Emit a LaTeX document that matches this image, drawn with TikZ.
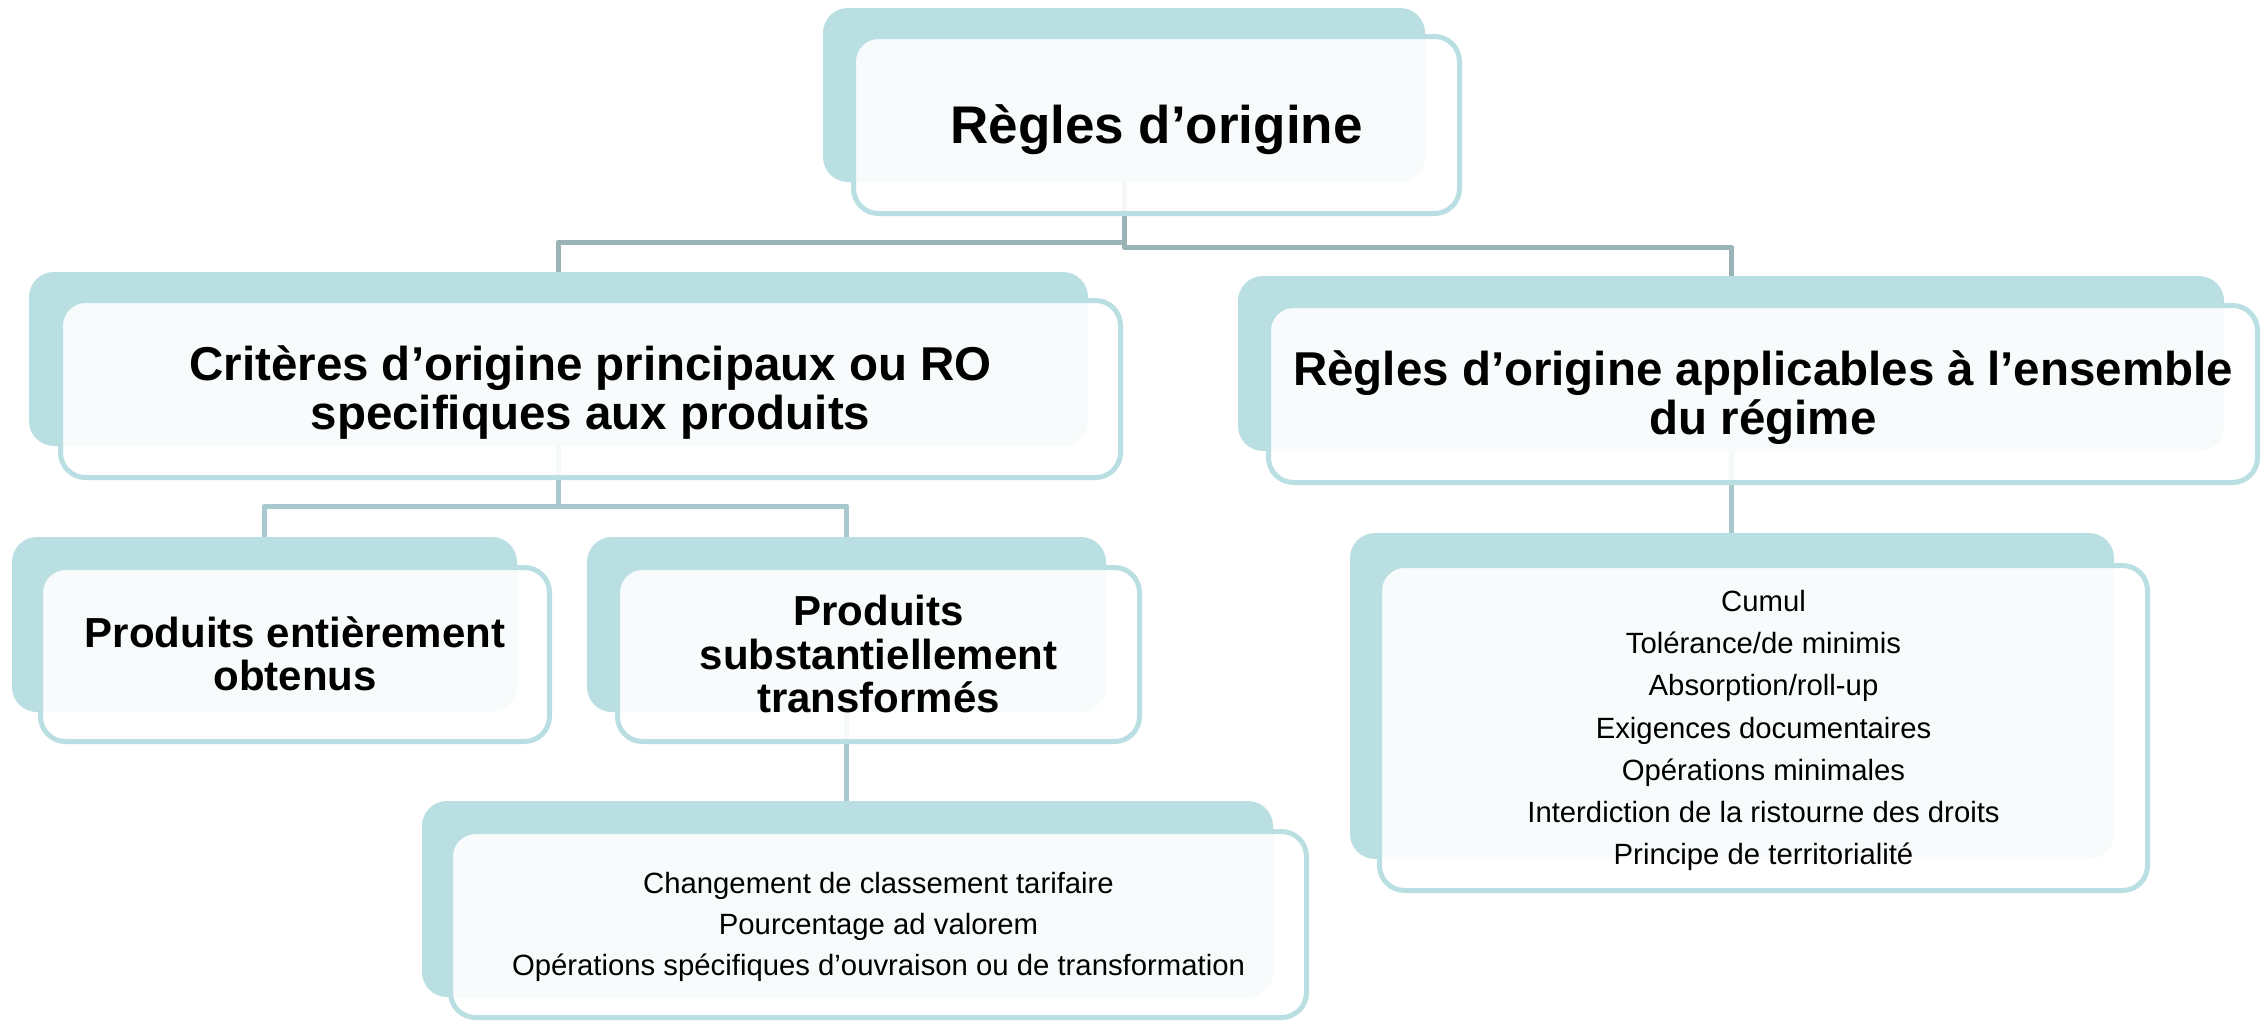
\documentclass[tikz,border=0pt]{standalone}
\usepackage{fontspec}
\setmainfont{Liberation Sans}
\pgfdeclarelayer{bg}
\pgfsetlayers{bg,main}
\definecolor{tealbox}{HTML}{BADFE2}
\definecolor{connA}{HTML}{9AB3B6}
\definecolor{connB}{HTML}{A7C9CD}
\newcommand\myasc{\rule{0pt}{.905em}}
\newcommand\mydsc{\rule[-.212em]{0pt}{.212em}}
\begin{document}
\begin{tikzpicture}[x=1pt,y=-1pt,
  backbox/.style={rectangle, rounded corners=25pt, fill=tealbox, draw=none, inner sep=0pt},
  frontbox/.style={rectangle, rounded corners=25pt, draw=tealbox, line width=5pt, fill=white,
    fill opacity=0.9, text opacity=1, text=black, align=center, inner sep=0pt},
  conntop/.style={draw=connA, line width=5pt, line join=round},
  connlow/.style={draw=connB, line width=5pt, line join=round},
  fbig/.style={font=\fontsize{53}{58}\selectfont\bfseries},
  fmid/.style={font=\fontsize{47.5}{49}\selectfont\bfseries},
  fsmall/.style={font=\fontsize{42}{43.7}\selectfont\bfseries},
  flist/.style={font=\fontsize{29.3}{42.2}\selectfont}]
\useasboundingbox (0,0) rectangle (2267,1023);

% top
\node[backbox, minimum width=602pt, minimum height=174pt] (Tb) at (1124,95) {};
\node[frontbox, fbig, minimum width=606pt, minimum height=177pt] (Tf) at (1156.5,125) {\myasc Règles d’origine\mydsc};

% level 2
\node[backbox, minimum width=1059pt, minimum height=174pt] (Ab) at (558.5,359) {};
\node[frontbox, fmid, minimum width=1060pt, minimum height=177pt] (Af) at (590.5,389)
  {\myasc Critères d’origine principaux ou RO\\specifiques aux produits\mydsc};

\node[backbox, minimum width=986pt, minimum height=175pt] (Bb) at (1731,363.5) {};
\node[frontbox, fmid, minimum width=989pt, minimum height=177pt] (Bf) at (1763,394)
  {\myasc Règles d’origine applicables à l’ensemble\\du régime\mydsc};

% level 3
\node[backbox, minimum width=505pt, minimum height=175pt] (Cb) at (264.5,624.5) {};
\node[frontbox, fsmall, minimum width=509pt, minimum height=174pt] (Cf) at (295,654.5)
  {\myasc Produits entièrement\\obtenus\mydsc};

\node[backbox, minimum width=519pt, minimum height=175pt] (Db) at (846.5,624.5) {};
\node[frontbox, fsmall, minimum width=522pt, minimum height=174pt] (Df) at (878.5,654.5)
  {\myasc Produits\\substantiellement\\transformés\mydsc};

\node[backbox, minimum width=764pt, minimum height=326pt] (Eb) at (1732,696) {};
\node[frontbox, flist, minimum width=768pt, minimum height=325pt] (Ef) at (1763.5,728)
  {\myasc Cumul\\Tolérance/de minimis\\Absorption/roll-up\\Exigences documentaires\\Opérations minimales\\Interdiction de la ristourne des droits\\Principe de territorialité\mydsc};

% level 4
\node[backbox, minimum width=851pt, minimum height=196pt] (Fb) at (847.5,899) {};
\node[frontbox, flist, font=\fontsize{29.3}{41}\selectfont, minimum width=856pt, minimum height=186pt] (Ff) at (878.5,924.5)
  {\myasc Changement de classement tarifaire\\Pourcentage ad valorem\\Opérations spécifiques d’ouvraison ou de transformation\mydsc};

% connectors (behind the boxes)
\coordinate (ya) at (0,242);
\coordinate (yb) at (0,247);
\coordinate (yc) at (0,506);
\begin{pgfonlayer}{bg}
\fill[white] (0,0) rectangle (2267,1023);
\draw[conntop] (Tb.center) |- (Ab.center |- ya) -- (Ab.center);
\draw[conntop] (Tb.center) |- (Bb.center |- yb) -- (Bb.center);
\draw[connlow] (Ab.center) |- (Cb.center |- yc) -- (Cb.center);
\draw[connlow] (Ab.center) |- (Db.center |- yc) -- (Db.center);
\draw[connlow] (Bb.center) -- (Bb.center |- Eb.center);
\draw[connlow] (Db.center) -- (Db.center |- Fb.center);
\end{pgfonlayer}
\end{tikzpicture}
\end{document}
